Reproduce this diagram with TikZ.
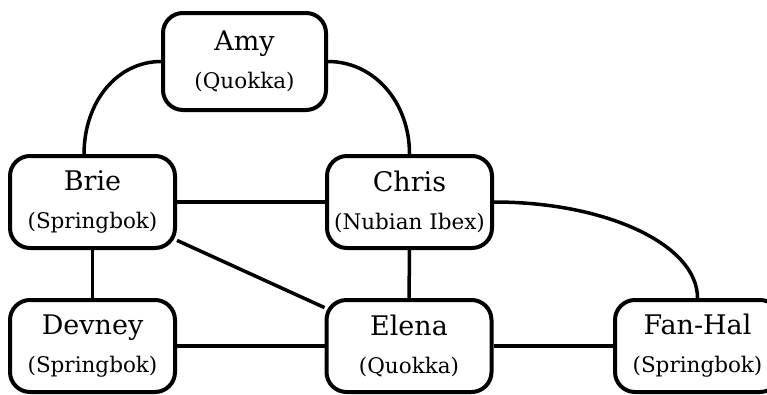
\documentclass[tikz,border=0pt]{standalone}
\usepackage{fontspec}
\setmainfont{DejaVu Serif}
\usetikzlibrary{positioning}
\newcommand{\species}[1]{{\fontsize{21.5}{35}\selectfont #1}}

\begin{document}
\begin{tikzpicture}[x=1pt,y=1pt,
every node/.style={draw,rounded corners=20pt,line width=4pt,
minimum width=165pt,minimum height=92pt,inner sep=0pt,align=center,
font=\fontsize{27}{35}\selectfont},
link/.style={line width=3.5pt}]
\useasboundingbox (0,0) rectangle (767,-394);
\node[minimum width=163pt,minimum height=97pt] (Amy) at (244.5,-61.5) {Amy\\[3pt]\species{(Quokka)}};
\node (Brie) at (92.5,-202) {Brie\\[3pt]\species{(Springbok)}};
\node (Chris) at (409.5,-202) {Chris\\[3pt]\species{(Nubian Ibex)}};
\node (Devney) at (92.5,-346) {Devney\\[3pt]\species{(Springbok)}};
\node (Elena) at (409,-346) {Elena\\[3pt]\species{(Quokka)}};
\node (FanHal) at (697.5,-346) {Fan-Hal\\[3pt]\species{(Springbok)}};
\draw[link] (Amy.west) .. controls +(-44,0) and +(0,52) .. (Brie.100);
\draw[link] (Amy.east) .. controls +(46,0) and +(0,52) .. (Chris.north);
\draw[link] (Chris.east) .. controls +(113,0) and +(0,53) .. (FanHal.north);
\draw[link] (Brie)--(Chris);
\draw[link] (Brie)--(Devney);
\draw[link] (Brie)--(Elena);
\draw[link] (Chris)--(Elena);
\draw[link] (Devney)--(Elena)--(FanHal);
\end{tikzpicture}
\end{document}
